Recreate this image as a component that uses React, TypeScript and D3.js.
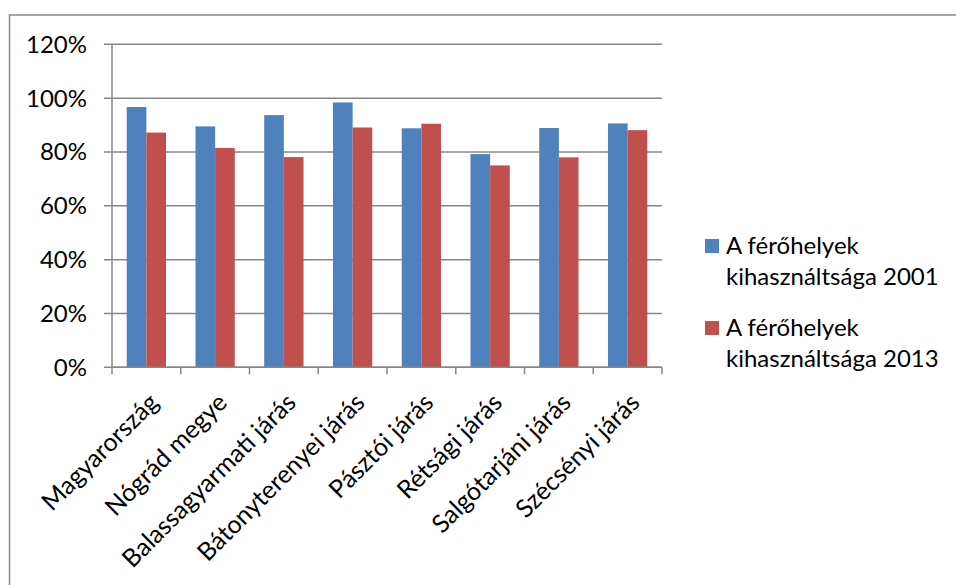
import React from "react";
import * as d3 from "d3";

const categories = [
  "Magyarország",
  "Nógrád megye",
  "Balassagyarmati járás",
  "Bátonyterenyei járás",
  "Pásztói járás",
  "Rétsági járás",
  "Salgótarjáni járás",
  "Szécsényi járás",
];
const series2001 = [96.7, 89.5, 93.7, 98.4, 88.8, 79.2, 88.9, 90.6];
const series2013 = [87.2, 81.5, 78.1, 89.1, 90.5, 75.0, 78.0, 88.1];
const seriesNames = ["A férőhelyek kihasználtsága 2001", "A férőhelyek kihasználtsága 2013"];
const seriesColors = ["#4F81BD", "#C0504D"];
const yTicks = [0, 20, 40, 60, 80, 100, 120];

const W = 956;
const H = 585;
const plotLeft = 112;
const plotRight = 662;
const plotTop = 44.3;
const plotBottom = 367.3;
const FONT = "Lato, 'Open Sans', sans-serif";
const FS = 24;
const FSX = 25;
const GRID = "#878787";

export default function App() {
  const x = d3.scaleBand<string>().domain(categories).range([plotLeft, plotRight]).paddingInner(0).paddingOuter(0);
  const bw = x.bandwidth();
  // Excel gap width 150%: bar width = band / 3.5
  const barW = bw / 3.5;
  const offset = (bw - 2 * barW) / 2;
  const y = d3.scaleLinear().domain([0, 120]).range([plotBottom, plotTop]);
  const data = [series2001, series2013];

  return (
    <svg width={W} height={H} style={{ position: "absolute", left: 0, top: 0, background: "#fff" }} fontFamily={FONT}>
      <rect x={9.5} y={15} width={W + 20} height={H + 20} fill="#fff" stroke="#898989" strokeWidth={1.5} />
      {yTicks.map((t) => (
        <line key={"g" + t} x1={plotLeft - 8} x2={plotRight} y1={y(t)} y2={y(t)} stroke={GRID} strokeWidth={1.5} />
      ))}
      {yTicks.map((t) => (
        <text key={"yl" + t} x={87} y={y(t) + 8.5} textAnchor="end" fontSize={FS} fill="#000">
          {t + "%"}
        </text>
      ))}
      {data.map((s, si) =>
        s.map((v, i) => (
          <rect
            key={si + "-" + i}
            x={(x(categories[i]) as number) + offset + si * barW}
            y={y(v)}
            width={barW}
            height={plotBottom - y(v)}
            fill={seriesColors[si]}
          />
        ))
      )}
      <line x1={plotLeft} x2={plotLeft} y1={plotTop} y2={plotBottom} stroke={GRID} strokeWidth={1.5} />
      <line x1={plotLeft} x2={plotRight} y1={plotBottom} y2={plotBottom} stroke={GRID} strokeWidth={1.5} />
      {categories.map((c, i) => (
        <line key={"t" + i} x1={x(c) as number} x2={x(c) as number} y1={plotBottom} y2={plotBottom + 7} stroke={GRID} strokeWidth={1.5} />
      ))}
      <line x1={plotRight} x2={plotRight} y1={plotBottom} y2={plotBottom + 7} stroke={GRID} strokeWidth={1.5} />
      {categories.map((c) => {
        const cx = (x(c) as number) + bw / 2;
        return (
          <text
            key={"xl" + c}
            transform={`translate(${cx + 0.5},${391}) rotate(-45)`}
            textAnchor="end"
            dy={18.5}
            fontSize={FSX}
            fill="#000"
          >
            {c}
          </text>
        );
      })}
      {seriesNames.map((n, i) => {
        const words = n.split(" ");
        const l1 = words.slice(0, 2).join(" ");
        const l2 = words.slice(2).join(" ");
        const top = 239 + i * 82;
        return (
          <g key={"lg" + i}>
            <rect x={705} y={top} width={14} height={14} fill={seriesColors[i]} />
            <text x={726} y={top + 14.5} fontSize={FS} fill="#000">
              {l1}
            </text>
            <text x={726} y={top + 46} fontSize={FS} fill="#000">
              {l2}
            </text>
          </g>
        );
      })}
    </svg>
  );
}
